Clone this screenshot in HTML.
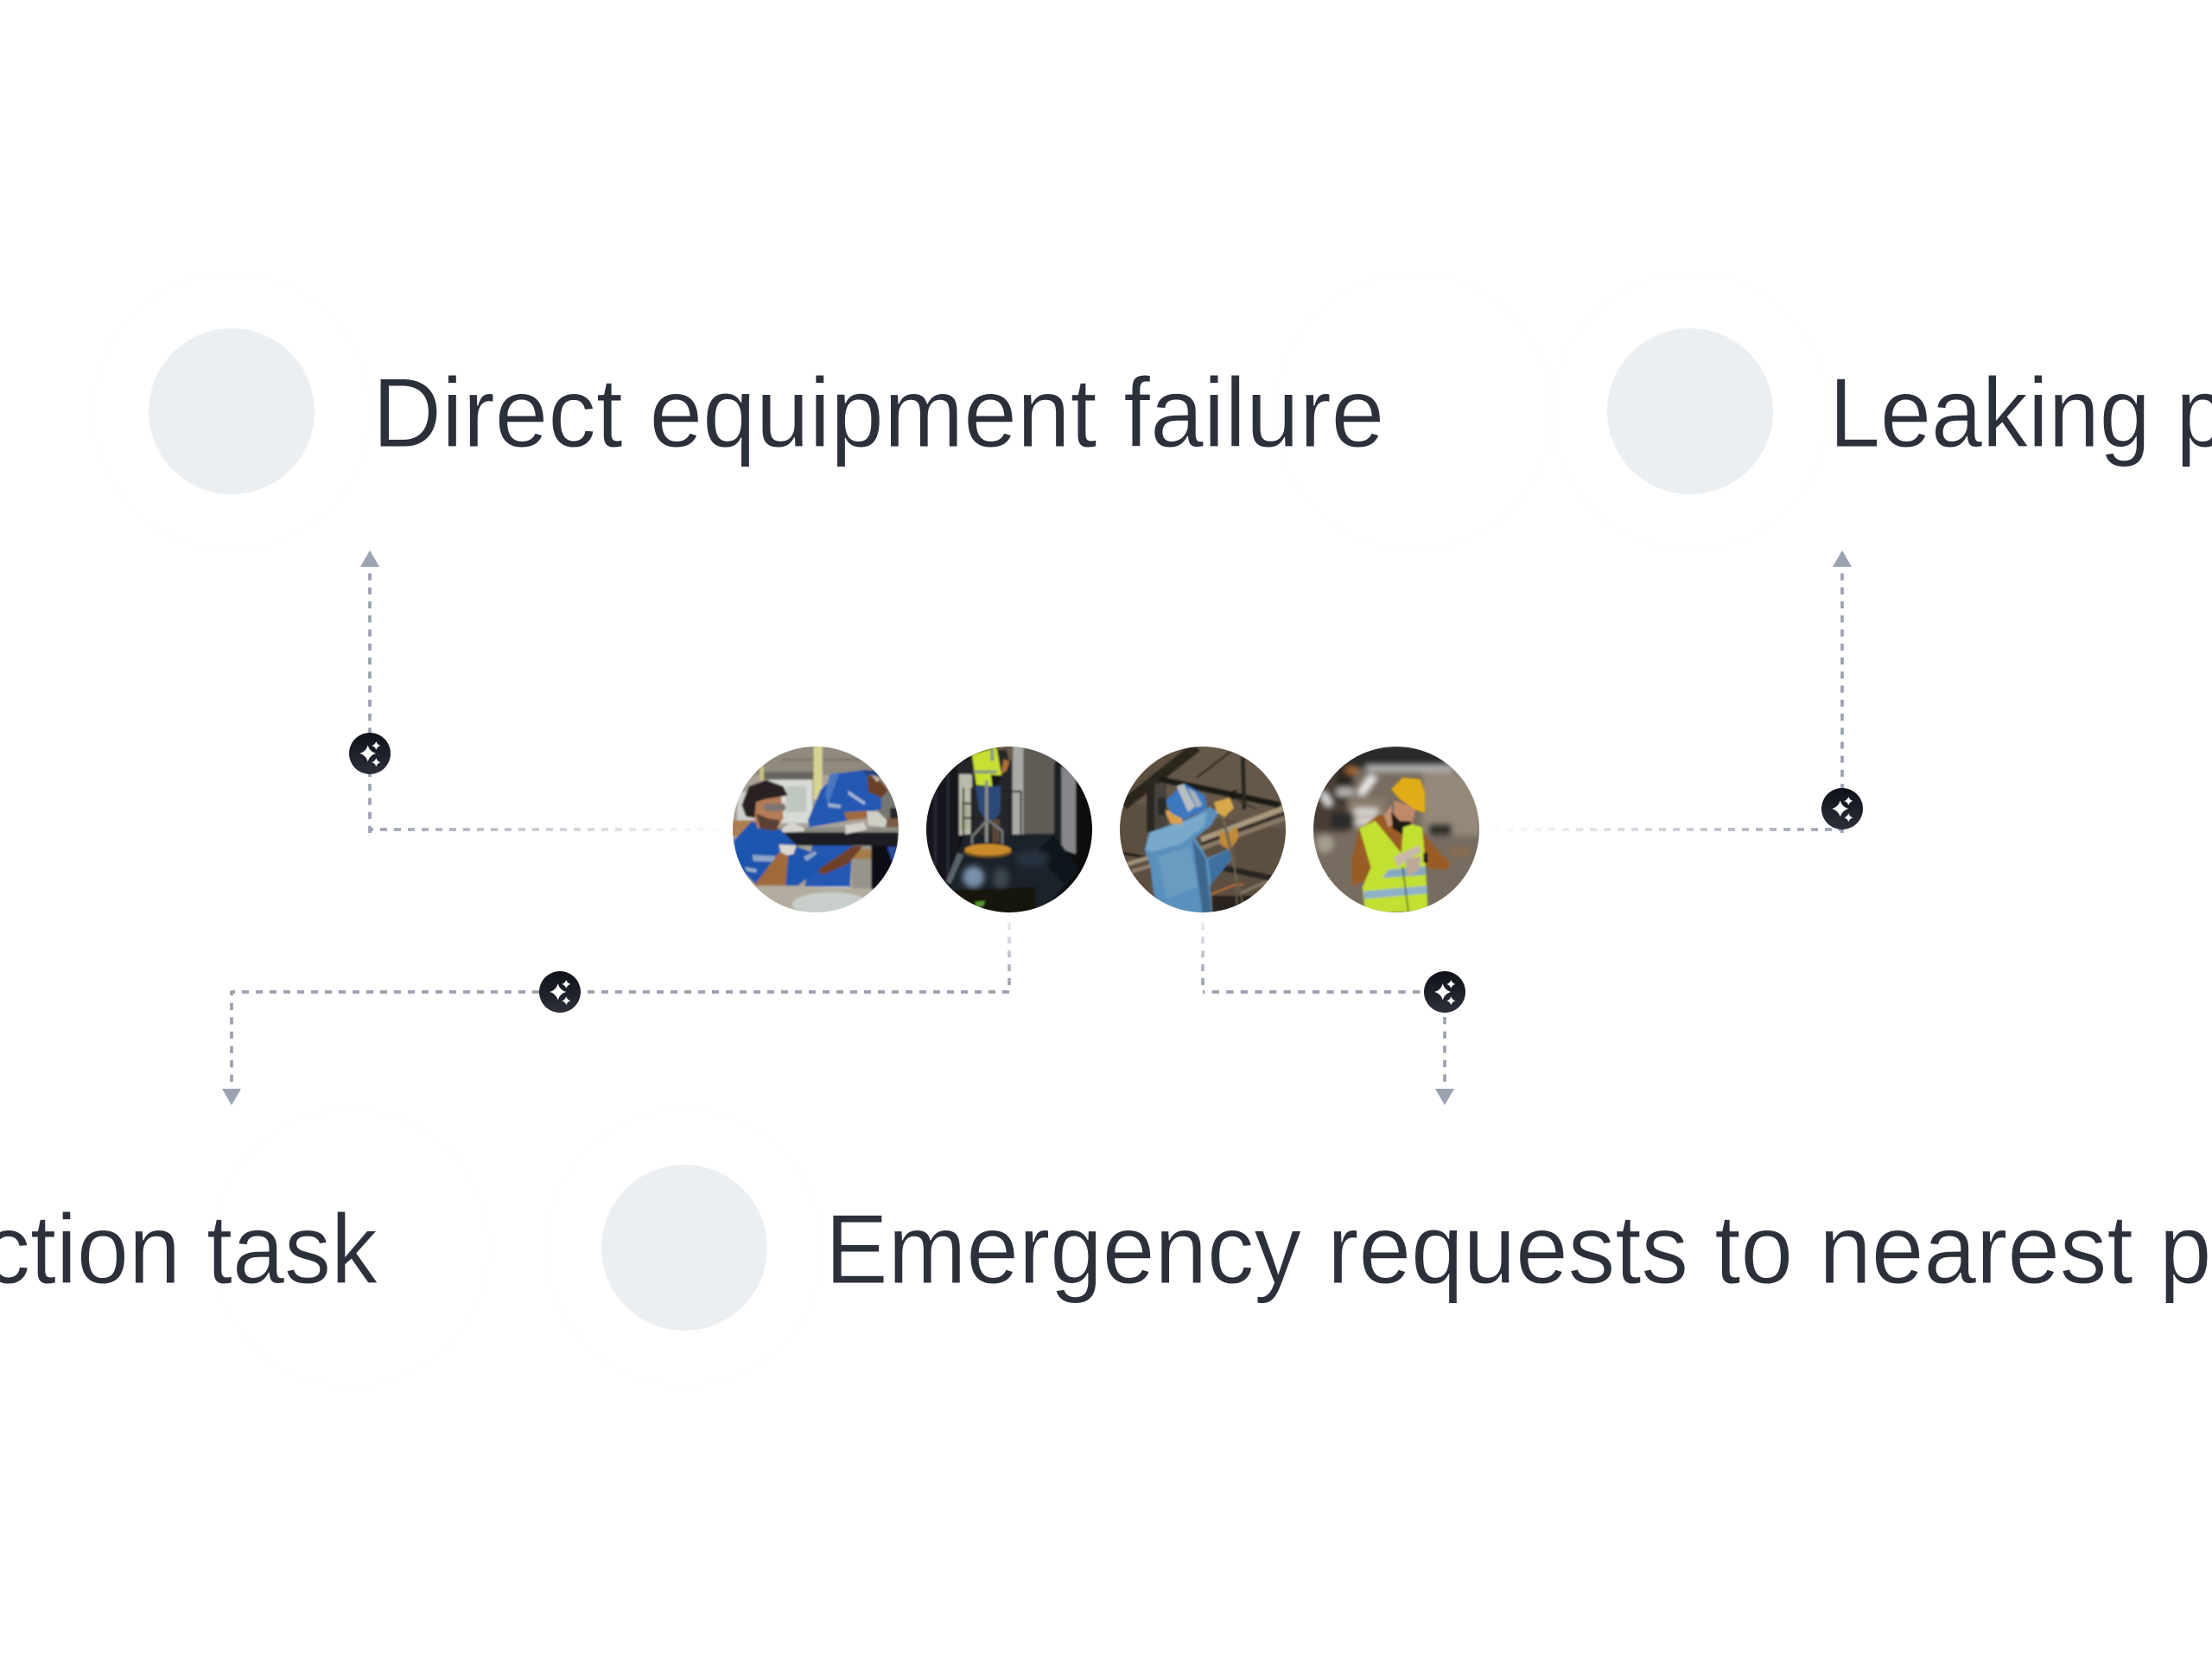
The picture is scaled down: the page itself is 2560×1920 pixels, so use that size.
<!DOCTYPE html>
<html lang="en">
<head>
<meta charset="utf-8">
<title>Diagram</title>
<style>
html,body{margin:0;padding:0;background:#fff}
svg{display:block}
text{font-family:"Liberation Sans",sans-serif;font-size:114px;fill:#2c303b;stroke:#fff;stroke-width:.9px;paint-order:normal}
</style>
</head>
<body>
<svg xmlns="http://www.w3.org/2000/svg" width="2560" height="1920" viewBox="0 0 2560 1920">
<defs>
<linearGradient id="fadeL" gradientUnits="userSpaceOnUse" x1="840" y1="960" x2="428" y2="960"><stop offset="0" stop-color="#9ba1b1" stop-opacity="0.03"/><stop offset="1" stop-color="#9ba1b1"/></linearGradient>
<linearGradient id="fadeR" gradientUnits="userSpaceOnUse" x1="1724" y1="960" x2="2132" y2="960"><stop offset="0" stop-color="#9ba1b1" stop-opacity="0.03"/><stop offset="1" stop-color="#9ba1b1"/></linearGradient>
<linearGradient id="fadeV" gradientUnits="userSpaceOnUse" x1="0" y1="1050" x2="0" y2="1140"><stop offset="0" stop-color="#9ba1b1" stop-opacity="0.03"/><stop offset="1" stop-color="#9ba1b1"/></linearGradient>
<linearGradient id="badgeG" x1="0" y1="0" x2="0" y2="1"><stop offset="0" stop-color="#0e1117"/><stop offset="1" stop-color="#2d303b"/></linearGradient>
<filter id="soft" x="-5%" y="-5%" width="110%" height="110%"><feGaussianBlur stdDeviation="3"/></filter>
<filter id="softer" x="-5%" y="-5%" width="110%" height="110%"><feGaussianBlur stdDeviation="10"/></filter>
<clipPath id="c1"><circle cx="312" cy="300" r="288"/></clipPath>
<clipPath id="c2"><circle cx="309" cy="300" r="288"/></clipPath>
<clipPath id="c3"><circle cx="306" cy="300" r="288"/></clipPath>
<clipPath id="c4"><circle cx="318" cy="300" r="288"/></clipPath>
<g id="badge">
<circle r="24" fill="url(#badgeG)"/>
<path fill="#fff" d="M-2.3,-9.6 Q-0.3,-2.2 7.2,0 Q-0.3,2.2 -2.3,9.6 Q-4.3,2.2 -11.8,0 Q-4.3,-2.2 -2.3,-9.6Z"/>
<path fill="#fff" d="M7.3,-14 Q8.4,-10.2 12.3,-9 Q8.4,-7.8 7.3,-4 Q6.2,-7.8 2.3,-9 Q6.2,-10.2 7.3,-14Z"/>
<path fill="#fff" d="M7.3,5.3 Q8.4,9.1 12.3,10.3 Q8.4,11.5 7.3,15.3 Q6.2,11.5 2.3,10.3 Q6.2,9.1 7.3,5.3Z"/>
</g>
</defs>

<rect width="2560" height="1920" fill="#fff"/>

<!-- faint rings -->
<g fill="none" stroke="#f9f9fa" stroke-width="1" stroke-dasharray="2 2">
<circle cx="268" cy="476" r="160"/>
<circle cx="1636" cy="476" r="160"/>
<circle cx="1956" cy="476" r="160"/>
<circle cx="406" cy="1444" r="160"/>
<circle cx="792" cy="1444" r="160"/>
</g>

<!-- grey circles -->
<g fill="#ecEff2">
<circle cx="268" cy="476" r="96"/>
<circle cx="1956" cy="476" r="96"/>
<circle cx="792" cy="1444" r="96"/>
</g>

<!-- labels -->
<text transform="translate(431,517) scale(.973,1)">Direct equipment failure</text>
<text transform="translate(2117,517) scale(.931,1)">Leaking pipes</text>
<text text-anchor="end" transform="translate(437,1485) scale(.947,1)">Inspection task</text>
<text transform="translate(955,1485) scale(.9556,1)">Emergency requests to nearest plumber</text>

<!-- connectors -->
<g fill="none" stroke-width="3.7">
<path d="M428 964V652" stroke="#9ba1b1" stroke-dasharray="8.12 8.12"/>
<path d="M426.4 960H432" stroke="#9ba1b1"/>
<path d="M432 960H840" stroke="url(#fadeL)" stroke-dasharray="8 8" stroke-dashoffset="8"/>
<path d="M1728 960H2133.6" stroke="url(#fadeR)" stroke-dasharray="8 8"/>
<path d="M2132 964V652" stroke="#9ba1b1" stroke-dasharray="8.12 8.12"/>
<path d="M1168 1052V1148" stroke="url(#fadeV)" stroke-dasharray="8 8"/>
<path d="M1168 1148H268" stroke="#9ba1b1" stroke-dasharray="8 8"/>
<path d="M268 1146.4V1152" stroke="#9ba1b1"/>
<path d="M268 1160.7V1260" stroke="#9ba1b1" stroke-dasharray="8.3 8.3"/>
<path d="M1392 1052V1148" stroke="url(#fadeV)" stroke-dasharray="8 8"/>
<path d="M1392 1148H1648" stroke="#9ba1b1" stroke-dasharray="8.3 8.3" stroke-dashoffset="6"/>
<path d="M1672 1177V1260" stroke="#9ba1b1" stroke-dasharray="8.3 8.3"/>
</g>
<g fill="#9ba2b1">
<polygon points="428,637 417,656 439,656"/>
<polygon points="2132,637 2121,656 2143,656"/>
<polygon points="268,1279 257,1260 279,1260"/>
<polygon points="1672,1279 1661,1260 1683,1260"/>
</g>
<use href="#badge" x="428" y="872"/>
<use href="#badge" x="2132" y="936"/>
<use href="#badge" x="648" y="1148"/>
<use href="#badge" x="1672" y="1148"/>

<!-- photo 1 -->
<g transform="translate(840,860) scale(.33333)"><g clip-path="url(#c1)"><g filter="url(#soft)">
<rect x="0" y="0" width="640" height="620" fill="#a8a298"/>
<rect x="100" y="10" width="500" height="100" fill="#8f897e"/>
<rect x="190" y="55" width="300" height="5" fill="#6f6a60"/>
<rect x="130" y="100" width="175" height="26" fill="#66665f"/>
<rect x="150" y="128" width="150" height="150" fill="#d8dcd6"/>
<rect x="210" y="150" width="70" height="90" fill="#bfc8c0"/>
<rect x="40" y="170" width="60" height="100" fill="#cdd2cc"/>
<rect x="118" y="80" width="14" height="50" fill="#c8c280"/>
<rect x="305" y="10" width="30" height="185" fill="#d8d490"/>
<rect x="20" y="268" width="90" height="55" fill="#ad7f50"/>
<rect x="530" y="170" width="70" height="120" fill="#77766f"/>
<rect x="570" y="225" width="30" height="40" fill="#26272a"/>
<rect x="440" y="355" width="70" height="150" fill="#96948c"/>
<rect x="440" y="370" width="65" height="32" fill="#a57a45"/>
<rect x="505" y="355" width="100" height="160" fill="#0e1012"/>
<polygon points="560,360 600,360 600,395 580,415" fill="#2a50a0"/>
<!-- back worker -->
<polygon points="285,268 330,160 392,105 490,92 540,175 540,230 490,240 420,270 290,292" fill="#2459b2"/>
<polygon points="360,110 395,100 355,215 345,180" fill="#4a78c0"/>
<polygon points="425,165 485,205 480,215 425,178" fill="#a6b7d4"/>
<polygon points="355,208 400,215 398,226 355,222" fill="#99afd2"/>
<polygon points="490,110 530,120 565,165 540,190 495,170" fill="#6a3f28"/>
<polygon points="505,110 535,125 525,135" fill="#c7bdb0"/>
<polygon points="470,95 515,95 540,118 490,108" fill="#1c3e80"/>
<polygon points="410,240 490,235 490,262 420,268" fill="#a06a40"/>
<polygon points="490,235 530,240 562,270 552,292 495,285" fill="#cfcfc6"/>
<rect x="558" y="262" width="42" height="30" fill="#7a5a40"/>
<polygon points="272,510 300,355 440,355 430,510" fill="#2459b2"/>
<rect x="272" y="498" width="158" height="28" fill="#c2cadb"/>
<!-- table -->
<rect x="155" y="293" width="445" height="20" fill="#8a8a80"/>
<rect x="155" y="310" width="445" height="46" fill="#1b1d21"/>
<polygon points="415,285 480,275 490,300 415,316" fill="#d6d2cb"/>
<!-- bottom -->
<polygon points="100,495 510,505 500,600 120,600" fill="#b3ad9f"/>
<ellipse cx="365" cy="560" rx="135" ry="42" fill="#c8cfca"/>
<!-- front worker -->
<polygon points="26,340 90,272 190,300 250,360 340,395 345,420 250,495 110,495 40,430" fill="#1f55ae"/>
<polygon points="92,388 172,392 168,412 96,410" fill="#8ea6c8"/>
<polygon points="66,430 108,438 105,450 72,444" fill="#97adca"/>
<polygon points="270,395 310,375 316,385 280,410" fill="#8ea6c8"/>
<polygon points="98,495 185,380 218,378 208,495" fill="#a06a3e"/>
<polygon points="320,440 440,358 475,358 425,420 335,458" fill="#6e4028"/>
<polygon points="185,352 245,355 235,385 212,390 190,378" fill="#dcd8cf"/>
<polygon points="192,300 225,275 275,295 270,306 200,310" fill="#d8d4cc"/>
<polygon points="85,195 190,170 200,260 175,305 110,295" fill="#b47c58"/>
<polygon points="105,245 150,262 188,268 175,305 120,298" fill="#5a4030"/>
<polygon points="55,215 80,150 140,128 200,150 215,182 135,195 105,205 100,260 70,255" fill="#2a2420"/>
<rect x="132" y="210" width="76" height="26" rx="10" fill="#7e7570"/>
</g></g></g>

<!-- photo 2 -->
<g transform="translate(1065,860) scale(.33333)"><g clip-path="url(#c2)"><g filter="url(#soft)">
<rect x="0" y="0" width="640" height="620" fill="#07090c"/>
<rect x="20" y="70" width="115" height="420" fill="#14181e"/>
<rect x="48" y="70" width="10" height="400" fill="#252c34"/>
<rect x="92" y="70" width="8" height="400" fill="#272f37"/>
<rect x="130" y="60" width="230" height="260" fill="#26282c"/>
<rect x="135" y="108" width="45" height="212" fill="#b9baac"/>
<rect x="140" y="200" width="28" height="100" fill="#a9ad94"/>
<rect x="320" y="10" width="40" height="310" fill="#a9a9a5"/>
<rect x="358" y="10" width="112" height="305" fill="#5f5b57"/>
<rect x="270" y="10" width="52" height="50" fill="#6a5a48"/>
<rect x="465" y="70" width="25" height="300" fill="#1c2024"/>
<polygon points="490,80 540,110 540,385 490,368" fill="#85868a"/>
<rect x="540" y="90" width="70" height="380" fill="#07090c"/>
<polygon points="105,490 150,320 465,315 550,440 420,585 130,600" fill="#1c242c"/>
<polygon points="465,320 550,440 500,490 400,380" fill="#10151b"/>
<polygon points="120,510 400,500 400,600 150,600" fill="#14120e"/>
<polygon points="90,480 130,380 150,390 105,490" fill="#5a6468"/>
<polygon points="190,552 225,548 218,566 195,566" fill="#5a9c30"/>
<!-- railings -->
<g fill="none" stroke="#1e2226" stroke-width="6">
<path d="M285 168H350V320"/><path d="M310 170V315"/><path d="M150 155V320H220"/><path d="M150 210H215"/><path d="M150 260H215"/><path d="M178 155V320"/>
</g>
<!-- worker -->
<polygon points="165,60 190,30 300,22 310,70 280,110 175,110" fill="#26262b"/>
<polygon points="180,40 265,15 282,110 250,150 195,145" fill="#c7e030"/>
<rect x="186" y="94" width="80" height="12" fill="#8c9c7e"/>
<rect x="243" y="22" width="13" height="40" fill="#8c9c7e"/>
<polygon points="280,110 290,55 310,65 300,95" fill="#b0703a"/>
<polygon points="245,110 280,112 272,145 250,150" fill="#17171c"/>
<polygon points="192,150 280,150 278,240 258,268 230,270 205,235" fill="#2a4a78"/>
<rect x="218" y="265" width="24" height="60" fill="#3a3028"/>
<rect x="250" y="265" width="26" height="80" fill="#5a4a38"/>
<rect x="225" y="130" width="11" height="215" fill="#8c8c8a"/>
<path d="M232 268L180 325V352M236 268L285 305V350" fill="none" stroke="#77787a" stroke-width="8"/>
<ellipse cx="235" cy="378" rx="84" ry="20" fill="#6f5220"/>
<ellipse cx="235" cy="370" rx="80" ry="20" fill="#cb8b2c"/>
</g>
<g filter="url(#softer)">
<ellipse cx="185" cy="465" rx="38" ry="38" fill="#7890aa"/>
<ellipse cx="280" cy="470" rx="28" ry="36" fill="#3a4650"/>
<ellipse cx="390" cy="400" rx="60" ry="30" fill="#283240"/>
</g></g></g>

<!-- photo 3 -->
<g transform="translate(1290,860) scale(.33333)"><g clip-path="url(#c3)"><g filter="url(#soft)">
<rect x="0" y="0" width="640" height="620" fill="#5d5041"/>
<polygon points="10,200 280,10 600,10 600,300" fill="#66594a"/>
<path d="M30 215L285 12" stroke="#29251f" stroke-width="38" fill="none"/>
<path d="M285 120L405 28" stroke="#1c1915" stroke-width="6" fill="none"/>
<path d="M155 125L575 215" stroke="#1f1b17" stroke-width="22" fill="none"/>
<path d="M445 50L450 230" stroke="#2a2520" stroke-width="15" fill="none"/>
<path d="M125 130V310" stroke="#2a2520" stroke-width="28" fill="none"/>
<rect x="140" y="140" width="40" height="160" fill="#46423b"/>
<path d="M300 335L590 225" stroke="#a8997f" stroke-width="18" fill="none"/>
<path d="M300 350L590 245" stroke="#28241f" stroke-width="8" fill="none"/>
<path d="M300 365L590 262" stroke="#8a7c68" stroke-width="14" fill="none"/>
<path d="M20 380L120 400" stroke="#1e1b17" stroke-width="10" fill="none"/>
<path d="M45 420L125 395" stroke="#a39379" stroke-width="14" fill="none"/>
<path d="M60 445L130 425" stroke="#8f8068" stroke-width="12" fill="none"/>
<path d="M360 430L550 470" stroke="#2c2620" stroke-width="22" fill="none"/>
<path d="M335 525L410 495L445 490" stroke="#b87030" stroke-width="6" fill="none"/>
<path d="M440 520L530 480" stroke="#8a7c68" stroke-width="8" fill="none"/>
<rect x="340" y="530" width="200" height="70" fill="#2a241e"/>
<path d="M395 180L490 230" stroke="#3a352c" stroke-width="6" fill="none"/>
<polygon points="395,172 425,160 418,195 400,195" fill="#1c1915"/>
<!-- worker -->
<polygon points="105,370 120,310 250,265 330,222 362,240 335,285 280,330 322,400 398,368 408,400 330,495 338,595 170,580 135,520 125,430" fill="#5a90bc"/>
<polygon points="108,370 122,312 250,268 320,240 310,290 230,350 130,378" fill="#78a8ca"/>
<polygon points="270,335 315,400 335,590 305,590" fill="#3c668c"/>
<polygon points="325,405 398,370 405,400 335,490" fill="#3e6fa0"/>
<polygon points="150,395 260,360 290,500 180,540" fill="#6a9cc2"/>
<polygon points="172,232 235,240 235,282 195,280" fill="#d8a050"/>
<polygon points="178,200 240,140 312,180 322,225 240,266 195,242" fill="#3a78c0"/>
<polygon points="215,150 240,142 280,220 255,240" fill="#b8bec0"/>
<polygon points="255,158 278,168 305,215 285,225" fill="#a8b0b8"/>
<rect x="150" y="190" width="28" height="60" fill="#2b2b2b"/>
<polygon points="345,205 400,190 414,225 380,258 355,240" fill="#d8a848"/>
<polygon points="365,300 385,315 425,290 430,330 400,372 365,350" fill="#c08a38"/>
<path d="M372 250L400 370L445 555M378 260L415 400L425 560" fill="none" stroke="#6a6250" stroke-width="5"/>
</g></g></g>

<!-- photo 4 -->
<g transform="translate(1510,860) scale(.33333)"><g clip-path="url(#c4)">
<g filter="url(#softer)">
<rect x="0" y="0" width="640" height="620" fill="#786c60"/>
<rect x="0" y="0" width="640" height="90" fill="#2c2b2c"/>
<rect x="215" y="78" width="300" height="20" fill="#b8b8b6"/>
<rect x="20" y="90" width="130" height="220" fill="#4a3e35"/>
<rect x="110" y="95" width="60" height="110" fill="#2a2622"/>
<rect x="410" y="100" width="200" height="230" fill="#95897a"/>
<rect x="150" y="190" width="130" height="110" fill="#8a7c6a"/>
<rect x="430" y="280" width="80" height="60" fill="#2e2e2c"/>
<rect x="90" y="240" width="80" height="60" fill="#2a2a2a"/>
<rect x="20" y="320" width="620" height="280" fill="#776c60"/>
<ellipse cx="70" cy="350" rx="30" ry="30" fill="#a59d8e"/>
<rect x="145" y="85" width="36" height="20" fill="#b07030"/>
<rect x="510" y="360" width="60" height="30" fill="#8a6c4c"/>
<polygon points="180,175 225,110 252,120 205,182" fill="#f0f0f0"/>
<polygon points="52,180 70,168 97,208 78,222" fill="#e4e4e4"/>
<rect x="170" y="225" width="85" height="28" rx="12" fill="#d8d4ce"/>
<rect x="175" y="260" width="70" height="26" rx="12" fill="#dcd8d4"/>
<rect x="110" y="155" width="60" height="30" rx="12" fill="#b5b4b0"/>
</g>
<g filter="url(#soft)">
<!-- man -->
<polygon points="165,495 165,400 188,300 260,248 400,290 435,340 507,420 490,442 420,432 230,472" fill="#9a5c28"/>
<polygon points="275,250 300,215 312,280 290,292" fill="#c59070"/>
<polygon points="310,200 385,225 375,275 345,300 310,270" fill="#c08a68"/>
<polygon points="300,238 330,270 372,272 345,322 305,296" fill="#231b18"/>
<polygon points="300,160 340,120 400,125 418,170 418,243 385,232 330,195" fill="#e2ac14"/>
<polygon points="190,295 245,270 335,382 342,292 375,282 408,292 420,432 428,582 210,592 200,500 230,432" fill="#c2e030"/>
<polygon points="205,515 425,495 425,522 205,541" fill="#8eb0c8"/>
<polygon points="290,440 420,428 420,458 270,468" fill="#88a8c0"/>
<polygon points="310,395 395,355 405,378 345,412 322,432" fill="#c8b8a8"/>
<polygon points="348,405 405,393 397,440 358,462" fill="#bea898"/>
<rect x="412" y="380" width="15" height="36" rx="6" fill="#1a1a1e"/>
<path d="M340 430L360 585" stroke="#2a2a30" stroke-width="4" fill="none"/>
</g>
</g></g>
</svg>
</body>
</html>
